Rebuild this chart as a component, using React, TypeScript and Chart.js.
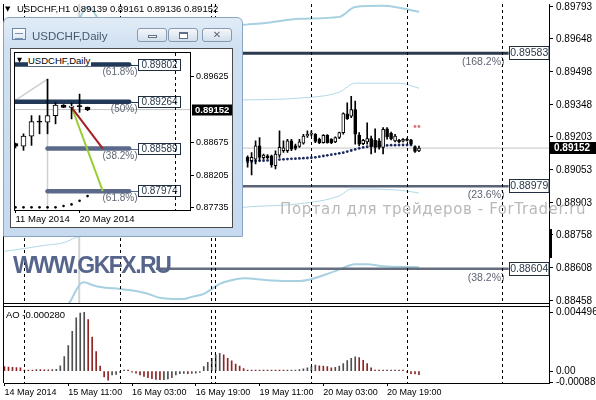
import React, { useEffect, useRef } from 'react';
import { Chart, registerables } from 'chart.js';

Chart.register(...registerables);

const FONT = '"Liberation Sans", Arial, sans-serif';

/* ================= USDCHF, H1 (main chart) ================= */
const X_TICK_IDX = [0, 16, 32, 48, 64, 80, 96];
const X_TICK_LABELS = ['14 May 2014', '15 May 11:00', '16 May 03:00', '16 May 19:00', '19 May 11:00', '20 May 03:00', '20 May 19:00'];
const X_MIN = -0.125;
const X_MAX = 136.625;
const PRICE_TICKS = [0.89793, 0.89648, 0.89498, 0.89348, 0.89203, 0.89053, 0.88903, 0.88758, 0.88608, 0.88458];
const PRICE_MIN = 0.8844;
const PRICE_MAX = 0.898065;
const AO_TICKS = [0.004496, 0, -0.000888];
const AO_TICK_LABELS = ['0.004496', '0.00', '-0.000888'];
const AO_MIN = -0.00091;
const AO_MAX = 0.00508;
const DAY_SEPARATORS = [5, 29, 52, 53, 77, 101, 125];
const TITLE_OHLC = [0.89139, 0.89161, 0.89136, 0.89152];
const CURRENT_PRICE = 0.89152;
const AO_CURRENT = -0.00028;
const VLINE_IDX = 18.75;

const CANDLE_FIRST_IDX = 61;
const OPEN = [0.89110, 0.89095, 0.89102, 0.89162, 0.89108, 0.89117, 0.89117, 0.89072, 0.89120, 0.89140, 0.89140, 0.89185, 0.89162, 0.89159, 0.89174, 0.89207, 0.89215, 0.89215, 0.89192, 0.89177, 0.89210, 0.89192, 0.89180, 0.89200, 0.89222, 0.89308, 0.89297, 0.89327, 0.89210, 0.89172, 0.89180, 0.89195, 0.89187, 0.89185, 0.89155, 0.89240, 0.89219, 0.89185, 0.89187, 0.89183, 0.89192, 0.89189, 0.89159, 0.89139];
const HIGH = [0.89117, 0.89132, 0.89185, 0.89200, 0.89125, 0.89122, 0.89120, 0.89140, 0.89230, 0.89185, 0.89192, 0.89192, 0.89170, 0.89192, 0.89215, 0.89230, 0.89230, 0.89218, 0.89197, 0.89213, 0.89213, 0.89195, 0.89203, 0.89225, 0.89312, 0.89357, 0.89387, 0.89365, 0.89222, 0.89192, 0.89267, 0.89207, 0.89240, 0.89195, 0.89245, 0.89245, 0.89225, 0.89215, 0.89192, 0.89195, 0.89197, 0.89192, 0.89162, 0.89161];
const LOW = [0.89065, 0.89030, 0.89080, 0.89095, 0.89102, 0.89104, 0.89065, 0.89057, 0.89110, 0.89132, 0.89132, 0.89140, 0.89144, 0.89155, 0.89170, 0.89200, 0.89207, 0.89177, 0.89172, 0.89174, 0.89174, 0.89172, 0.89177, 0.89195, 0.89215, 0.89282, 0.89290, 0.89170, 0.89162, 0.89168, 0.89170, 0.89125, 0.89132, 0.89147, 0.89125, 0.89192, 0.89189, 0.89180, 0.89177, 0.89180, 0.89183, 0.89167, 0.89132, 0.89136];
const CLOSE = [0.89095, 0.89110, 0.89162, 0.89110, 0.89120, 0.89108, 0.89075, 0.89125, 0.89155, 0.89153, 0.89185, 0.89147, 0.89150, 0.89180, 0.89207, 0.89215, 0.89219, 0.89182, 0.89177, 0.89210, 0.89177, 0.89177, 0.89200, 0.89222, 0.89309, 0.89285, 0.89327, 0.89215, 0.89170, 0.89187, 0.89195, 0.89159, 0.89155, 0.89155, 0.89237, 0.89204, 0.89195, 0.89207, 0.89180, 0.89192, 0.89187, 0.89170, 0.89137, 0.89152];

const SAR_FIRST_IDX = 61;
const SAR = [0.89090, 0.89091, 0.89093, 0.89094, 0.89095, 0.89096, 0.89097, 0.89099, 0.89100, 0.89101, 0.89102, 0.89103, 0.89104, 0.89105, 0.89106, 0.89107, 0.89108, 0.89110, 0.89113, 0.89116, 0.89119, 0.89122, 0.89125, 0.89128, 0.89131, 0.89136, 0.89141, 0.89146, 0.89151, 0.89155, 0.89158, 0.89160, 0.89162, 0.89163, 0.89164, 0.89164, 0.89165, 0.89165, 0.89166, 0.89166, 0.89166, 0.89166];
const SAR_REV_FIRST_IDX = 103;
const SAR_REV = [0.89250, 0.89250];

const BB_UP2_IDX = [17, 19, 20, 21, 22, 23, 24, 30, 40, 50, 60, 66, 74, 84, 88, 95, 99, 104];
const BB_UP2_VAL = [0.89650, 0.89744, 0.89780, 0.89793, 0.89780, 0.89753, 0.89717, 0.89680, 0.89660, 0.89680, 0.89712, 0.89721, 0.89739, 0.89748, 0.89793, 0.89798, 0.89789, 0.89771];
const BB_UP1_IDX = [58, 74, 84, 88, 99, 104];
const BB_UP1_VAL = [0.89370, 0.89379, 0.89406, 0.89447, 0.89447, 0.89424];
const BB_LO1_IDX = [0, 5, 10, 15, 18, 40, 58, 74, 84, 87, 99, 104];
const BB_LO1_VAL = [0.88683, 0.88696, 0.88710, 0.88723, 0.88746, 0.88820, 0.88880, 0.88899, 0.88935, 0.88966, 0.88961, 0.88948];
const BB_LO2_IDX = [15, 16, 17, 18, 19, 20, 22, 24, 29, 33, 36, 39, 42, 45, 47, 50, 52, 54, 57, 60, 66, 74, 83, 88, 91, 95, 104];
const BB_LO2_VAL = [0.88404, 0.88440, 0.88472, 0.88507, 0.88535, 0.88543, 0.88530, 0.88521, 0.88512, 0.88503, 0.88490, 0.88472, 0.88467, 0.88467, 0.88476, 0.88490, 0.88512, 0.88535, 0.88552, 0.88561, 0.88552, 0.88548, 0.88593, 0.88624, 0.88624, 0.88615, 0.88611];

const MAIN_FIB_LEVELS = [0.89583, 0.88979, 0.88604];
const MAIN_FIB_LABELS = ['(168.2%)', '(23.6%)', '(38.2%)'];
const MAIN_FIB_START = 38;
const MAIN_FIB_END = 126.5;

const AO = [
  0.00034, 0.00031, 0.00029, 0.00028, 0.00026,
  0.00008, 0.00004, 0.00002, 0.00012, 0.00011,
  0.00010, 0.00010, 0.00011, 0.00014, 0.00040,
  0.00111, 0.00196, 0.00305, 0.00408, 0.00445,
  0.004496, 0.00395, 0.00261, 0.00150, 0.00039,
  -0.00044, -0.00070, -0.00030, -0.00025, -0.00010,
  0.00003, 0.00001, -0.00003, -0.00016, -0.00030,
  -0.00040, -0.00050, -0.00058, -0.00064, -0.00066,
  -0.00065, -0.00060, -0.00050, -0.00030, -0.00020,
  -0.00018, -0.00020, -0.00018, -0.00015, -0.00010,
  0.00034, 0.00067, 0.00098, 0.00124, 0.00137,
  0.00124, 0.00098, 0.00078, 0.00054, 0.00039,
  0.00020, 0.00006, 0.00004, 0.00003, 0.00004,
  0.00003, 0.00002, 0.00003, 0.00002, 0.00001,
  0.00001, 0.00002, 0.00005, 0.00008, 0.00012,
  0.00018, 0.00026, 0.00035, 0.00047, 0.00041,
  0.00039, 0.00034, 0.00026, 0.00030, 0.00039,
  0.00057, 0.00080, 0.00098, 0.00110, 0.00103,
  0.00083, 0.00057, 0.00026, 0.00005, 0.00004,
  0.00005, 0.00004, 0.00005, 0.00004, 0.00005,
  0.00002, -0.00005, -0.00020, -0.00022, -0.00028,
];

/* ================= USDCHF, Daily (inset) ================= */
const D_X_TICK_IDX = [0, 8];
const D_X_TICK_LABELS = ['11 May 2014', '20 May 2014'];
const D_X_MIN = -0.062;
const D_X_MAX = 21.79;
const D_PRICE_TICKS = [0.89625, 0.88675, 0.88205, 0.87735];
const D_MIN = 0.877019;
const D_MAX = 0.899694;
const D_OPEN = [0.88660, 0.88625, 0.88769, 0.88979, 0.88970, 0.89065, 0.89218, 0.89185, 0.89204, 0.89185];
const D_HIGH = [0.88670, 0.88802, 0.89065, 0.89065, 0.89592, 0.89257, 0.89225, 0.89248, 0.89376, 0.89190];
const D_LOW = [0.88600, 0.88563, 0.88635, 0.88802, 0.88802, 0.88946, 0.89180, 0.89018, 0.89113, 0.89136];
const D_CLOSE = [0.88625, 0.88769, 0.88979, 0.88970, 0.89065, 0.89218, 0.89185, 0.89204, 0.89194, 0.89152];
const D_SAR = [0.87740, 0.87740, 0.87740, 0.87740, 0.87740, 0.87740, 0.87759, 0.87783, 0.87836, 0.87903];
const D_FIB_LEVELS = [0.89802, 0.89264, 0.88589, 0.87974];
const D_FIB_LABELS = ['(61.8%)', '(50%)', '(38.2%)', '(61.8%)'];
const D_FIB_START = [-1, -1, 4, 4];
const D_FIB_END = 14.2;
const D_RED_X = [7, 10.9];
const D_RED_Y = [0.89184, 0.88589];
const D_GREEN_X = [7.1, 10.9];
const D_GREEN_Y = [0.89161, 0.87974];
const D_TREND_X = [-0.062, 4];
const D_TREND_Y = [0.89281, 0.89592];
const D_VLINE_IDX = 4;
const D_VLINE_TOP = 0.89592;
const D_SEPARATORS = [20];
const D_CURRENT = 0.89152;

const pts = (xs: number[], ys: number[]) => xs.map((x, k) => ({ x, y: ys[k] }));

function mainConfig(): any {
  const cx = OPEN.map((_, k) => CANDLE_FIRST_IDX + k);
  const wicks = cx.map((x, k) => ({ x, y: [LOW[k], HIGH[k]] }));
  const bodies = cx.map((x, k) => ({ x, y: [OPEN[k], CLOSE[k]] }));
  const bodyFill = cx.map((_, k) => (CLOSE[k] >= OPEN[k] ? '#ffffff' : '#000000'));
  const aoColor = AO.map((v, i) => (i > 0 && v > AO[i - 1] ? '#4f4f4f' : '#8e2424'));
  const line = { type: 'line', yAxisID: 'y', pointRadius: 0, fill: false };
  const barBase = { type: 'bar', grouped: false, barPercentage: 1, categoryPercentage: 1, minBarLength: 1 };
  const fibColors = ['#2b3b4d', '#596476', '#646e7e'];
  const fibWidths = [3, 2.5, 2.5];

  const decor = {
    id: 'mainDecor',
    afterDatasetsDraw(chart: any) {
      const { ctx, chartArea: a, scales } = chart;
      const xs = scales.x, ys = scales.y;
      ctx.save();
      ctx.font = `10.5px ${FONT}`;
      ctx.textBaseline = 'middle';
      MAIN_FIB_LEVELS.forEach((lv, k) => {
        const y = Math.round(ys.getPixelForValue(lv));
        const bx = Math.round(xs.getPixelForValue(MAIN_FIB_END)) + 0.5;
        const bw = a.right - bx;
        ctx.fillStyle = '#ffffff';
        ctx.fillRect(bx, y - 6.5, bw, 13);
        ctx.strokeStyle = '#1f2f40';
        ctx.lineWidth = 1;
        ctx.strokeRect(bx, y - 6.5, bw, 13);
        ctx.fillStyle = '#2a3a4c';
        ctx.textAlign = 'center';
        ctx.fillText(lv.toFixed(5), bx + bw / 2, y + 0.5);
        ctx.fillStyle = '#5e6673';
        ctx.textAlign = 'right';
        ctx.fillText(MAIN_FIB_LABELS[k], bx - 5, y + 9);
      });
      ctx.strokeStyle = '#000';
      ctx.lineWidth = 1;
      ctx.setLineDash([3, 3]);
      DAY_SEPARATORS.forEach((d) => {
        const x = Math.floor(xs.getPixelForValue(d)) + 0.5;
        ctx.beginPath();
        ctx.moveTo(x, a.top);
        ctx.lineTo(x, a.bottom);
        ctx.stroke();
      });
      ctx.setLineDash([]);
      const pb = Math.round(ys.bottom);
      ctx.fillStyle = '#ffffff';
      ctx.fillRect(a.left, pb - 1, a.right - a.left, 3);
      ctx.beginPath();
      ctx.moveTo(a.left - 1, pb - 1.5); ctx.lineTo(a.right, pb - 1.5);
      ctx.moveTo(a.left - 1, pb + 1.5); ctx.lineTo(a.right, pb + 1.5);
      ctx.moveTo(a.left - 0.5, a.top); ctx.lineTo(a.left - 0.5, a.bottom);
      ctx.stroke();
      ctx.restore();
    },
    afterDraw(chart: any) {
      const { ctx, chartArea: a, scales } = chart;
      const y = Math.round(scales.y.getPixelForValue(CURRENT_PRICE));
      ctx.save();
      ctx.fillStyle = '#000';
      ctx.fillRect(a.right + 1, y - 6, 47, 12);
      ctx.fillStyle = '#fff';
      ctx.font = `bold 10px ${FONT}`;
      ctx.textAlign = 'left';
      ctx.textBaseline = 'middle';
      ctx.fillText(CURRENT_PRICE.toFixed(5), a.right + 5, y + 0.5);
      ctx.fillStyle = '#000';
      ctx.fillRect(a.right + 1, 229, 2, 29);
      ctx.restore();
    },
  };

  return {
    type: 'bar',
    data: {
      datasets: [
        { ...barBase, label: 'AO', data: AO.map((v, i) => ({ x: i, y: v })), yAxisID: 'ao', backgroundColor: aoColor, maxBarThickness: 1, order: 1 },
        { ...barBase, label: 'body', data: bodies, yAxisID: 'y', backgroundColor: bodyFill, borderColor: '#000', borderWidth: 1, borderSkipped: false, maxBarThickness: 3, order: 2 },
        { ...barBase, label: 'wick', data: wicks, yAxisID: 'y', backgroundColor: '#000', maxBarThickness: 1, order: 3 },
        { ...line, label: 'SAR', data: SAR.map((v, k) => ({ x: SAR_FIRST_IDX + k, y: v })), showLine: false, pointRadius: 1.4, pointBackgroundColor: '#1d2b5e', pointBorderWidth: 0, order: 4 },
        { ...line, label: 'SAR2', data: SAR_REV.map((v, k) => ({ x: SAR_REV_FIRST_IDX + k, y: v })), showLine: false, pointRadius: 1.4, pointBackgroundColor: '#e0707c', pointBorderWidth: 0, order: 4 },
        ...MAIN_FIB_LEVELS.map((lv, k) => ({ ...line, label: 'fib' + k, data: pts([MAIN_FIB_START, MAIN_FIB_END], [lv, lv]), borderColor: fibColors[k], borderWidth: fibWidths[k], order: 5 })),
        { ...line, label: 'bbU2', data: pts(BB_UP2_IDX, BB_UP2_VAL), borderColor: '#a7d0e1', borderWidth: 2, cubicInterpolationMode: 'monotone', order: 6 },
        { ...line, label: 'bbU1', data: pts(BB_UP1_IDX, BB_UP1_VAL), borderColor: '#b2d7e6', borderWidth: 1, cubicInterpolationMode: 'monotone', order: 6 },
        { ...line, label: 'bbL1', data: pts(BB_LO1_IDX, BB_LO1_VAL), borderColor: '#b2d7e6', borderWidth: 1, cubicInterpolationMode: 'monotone', order: 6 },
        { ...line, label: 'bbL2', data: pts(BB_LO2_IDX, BB_LO2_VAL), borderColor: '#a7d0e1', borderWidth: 2, cubicInterpolationMode: 'monotone', order: 6 },
        { ...line, label: 'price', data: pts([X_MIN, X_MAX], [CURRENT_PRICE, CURRENT_PRICE]), borderColor: '#c4c4c4', borderWidth: 1, order: 7 },
        { ...line, label: 'vline', data: pts([VLINE_IDX, VLINE_IDX], [PRICE_MIN, PRICE_MAX]), borderColor: '#d2d2d2', borderWidth: 2, order: 8 },
      ],
    },
    options: {
      responsive: false,
      animation: false,
      devicePixelRatio: 1,
      events: [],
      layout: { padding: { left: 2, right: 0, top: 0, bottom: 0 } },
      plugins: { legend: { display: false }, tooltip: { enabled: false } },
      scales: {
        x: {
          type: 'linear', offset: false, min: X_MIN, max: X_MAX,
          afterBuildTicks: (s: any) => { s.ticks = X_TICK_IDX.map((v) => ({ value: v })); },
          afterFit: (s: any) => { s.height = 17; s.paddingLeft = 0; s.paddingRight = 0; },
          ticks: {
            autoSkip: false, maxRotation: 0, align: 'start', padding: 1, color: '#000',
            font: { family: FONT, size: 9 },
            callback: (v: number) => { const k = X_TICK_IDX.indexOf(v); return k >= 0 ? X_TICK_LABELS[k] : ''; },
          },
          grid: { display: true, drawOnChartArea: false, drawTicks: true, tickLength: 3, color: '#000', offset: false },
          border: { display: true, color: '#000' },
        },
        y: {
          type: 'linear', position: 'right', stack: 'panes', stackWeight: 304, min: PRICE_MIN, max: PRICE_MAX,
          afterBuildTicks: (s: any) => { s.ticks = PRICE_TICKS.map((v) => ({ value: v })); },
          afterFit: (s: any) => { s.width = 47; s.paddingTop = 0; s.paddingBottom = 0; },
          ticks: { autoSkip: false, padding: 3, color: '#000', font: { family: FONT, size: 10 }, callback: (v: number) => Number(v).toFixed(5) },
          grid: { display: true, drawOnChartArea: false, tickLength: 4, color: '#000' },
          border: { display: true, color: '#000' },
        },
        ao: {
          type: 'linear', position: 'right', stack: 'panes', stackWeight: 79, min: AO_MIN, max: AO_MAX,
          afterBuildTicks: (s: any) => { s.ticks = AO_TICKS.map((v) => ({ value: v })); },
          afterFit: (s: any) => { s.width = 47; s.paddingTop = 0; s.paddingBottom = 0; },
          ticks: { autoSkip: false, padding: 3, color: '#000', font: { family: FONT, size: 10 }, callback: (v: number) => { const k = AO_TICKS.indexOf(v); return k >= 0 ? AO_TICK_LABELS[k] : ''; } },
          grid: { display: true, drawOnChartArea: false, tickLength: 4, color: '#000' },
          border: { display: true, color: '#000' },
        },
      },
    },
    plugins: [decor],
  };
}

function dailyConfig(): any {
  const cx = D_OPEN.map((_, k) => k);
  const wicks = cx.map((x, k) => ({ x, y: [D_LOW[k], D_HIGH[k]] }));
  const bodies = cx.map((x, k) => ({ x, y: [D_OPEN[k], D_CLOSE[k]] }));
  const bodyFill = cx.map((_, k) => (D_CLOSE[k] >= D_OPEN[k] ? '#ffffff' : '#000000'));
  const line = { type: 'line', pointRadius: 0, fill: false };
  const barBase = { type: 'bar', grouped: false, barPercentage: 1, categoryPercentage: 1, minBarLength: 1 };
  const fibColors = ['#213957', '#213957', '#5b6a8b', '#5b6a8b'];

  const decor = {
    id: 'dailyDecor',
    afterDatasetsDraw(chart: any) {
      const { ctx, chartArea: a, scales } = chart;
      const xs = scales.x, ys = scales.y;
      ctx.save();
      ctx.font = `10px ${FONT}`;
      ctx.textBaseline = 'middle';
      const lineEnd = xs.getPixelForValue(D_FIB_END);
      D_FIB_LEVELS.forEach((lv, k) => {
        const y = Math.round(ys.getPixelForValue(lv));
        const bx = Math.round(lineEnd + 9) + 0.5;
        const bw = 42;
        ctx.strokeStyle = fibColors[k];
        ctx.lineWidth = 1;
        ctx.beginPath(); ctx.moveTo(lineEnd, y + 0.5); ctx.lineTo(bx, y + 0.5); ctx.stroke();
        ctx.fillStyle = '#ffffff';
        ctx.fillRect(bx, y - 5.5, bw, 11);
        ctx.strokeStyle = '#1f2f40';
        ctx.strokeRect(bx, y - 5.5, bw, 11);
        ctx.fillStyle = '#2a3a4c';
        ctx.textAlign = 'center';
        ctx.fillText(lv.toFixed(5), bx + bw / 2, y + 0.5);
        ctx.fillStyle = '#5e6673';
        ctx.textAlign = 'right';
        ctx.fillText(D_FIB_LABELS[k], bx - 1, y + 7);
      });
      ctx.strokeStyle = '#000';
      ctx.setLineDash([3, 3]);
      D_SEPARATORS.forEach((d) => {
        const x = Math.floor(xs.getPixelForValue(d)) + 0.5;
        ctx.beginPath(); ctx.moveTo(x, a.top); ctx.lineTo(x, a.bottom); ctx.stroke();
      });
      ctx.setLineDash([]);
      ctx.strokeRect(a.left - 0.5, a.top - 0.5, a.right - a.left + 1, a.bottom - a.top + 1);
      ctx.restore();
    },
    afterDraw(chart: any) {
      const { ctx, chartArea: a, scales } = chart;
      const y = Math.round(scales.y.getPixelForValue(D_CURRENT));
      ctx.save();
      ctx.fillStyle = '#000';
      ctx.fillRect(a.right + 2, y - 5.5, 42, 11);
      ctx.fillStyle = '#fff';
      ctx.font = `bold 9.5px ${FONT}`;
      ctx.textAlign = 'left';
      ctx.textBaseline = 'middle';
      ctx.fillText(D_CURRENT.toFixed(5), a.right + 5, y + 0.5);
      ctx.restore();
    },
  };

  return {
    type: 'bar',
    data: {
      datasets: [
        { ...barBase, label: 'body', data: bodies, backgroundColor: bodyFill, borderColor: '#000', borderWidth: 1, borderSkipped: false, maxBarThickness: 5, order: 1 },
        { ...barBase, label: 'wick', data: wicks, backgroundColor: '#000', maxBarThickness: 1, order: 2 },
        { ...line, label: 'sar', data: pts(cx, D_SAR), showLine: false, pointRadius: 1.3, pointBackgroundColor: '#000', pointBorderWidth: 0, order: 3 },
        { ...line, label: 'red', data: pts(D_RED_X, D_RED_Y), borderColor: '#a51e22', borderWidth: 2, order: 3 },
        { ...line, label: 'green', data: pts(D_GREEN_X, D_GREEN_Y), borderColor: '#9acd32', borderWidth: 2, order: 3 },
        ...D_FIB_LEVELS.map((lv, k) => ({ ...line, label: 'fib' + k, data: pts([D_FIB_START[k], D_FIB_END], [lv, lv]), borderColor: fibColors[k], borderWidth: 4.5, borderCapStyle: 'round', order: 4 })),
        { ...line, label: 'trend', data: pts(D_TREND_X, D_TREND_Y), borderColor: '#cfcfcf', borderWidth: 1.5, order: 5 },
        { ...line, label: 'vline', data: pts([D_VLINE_IDX, D_VLINE_IDX], [D_MIN, D_VLINE_TOP]), borderColor: '#cfcfcf', borderWidth: 1.5, order: 5 },
        { ...line, label: 'price', data: pts([D_X_MIN, D_X_MAX], [D_CURRENT, D_CURRENT]), borderColor: '#c4c4c4', borderWidth: 1, order: 6 },
      ],
    },
    options: {
      responsive: false,
      animation: false,
      devicePixelRatio: 1,
      events: [],
      layout: { padding: { left: 2, right: 0, top: 3, bottom: 0 } },
      plugins: { legend: { display: false }, tooltip: { enabled: false } },
      scales: {
        x: {
          type: 'linear', offset: false, min: D_X_MIN, max: D_X_MAX,
          afterBuildTicks: (s: any) => { s.ticks = D_X_TICK_IDX.map((v) => ({ value: v })); },
          afterFit: (s: any) => { s.height = 17; s.paddingLeft = 0; s.paddingRight = 0; },
          ticks: {
            autoSkip: false, maxRotation: 0, align: 'start', padding: 1, color: '#000',
            font: { family: FONT, size: 9.5 },
            callback: (v: number) => { const k = D_X_TICK_IDX.indexOf(v); return k >= 0 ? D_X_TICK_LABELS[k] : ''; },
          },
          grid: { display: true, drawOnChartArea: false, tickLength: 3, color: '#000', offset: false },
          border: { display: true, color: '#000' },
        },
        y: {
          type: 'linear', position: 'right', min: D_MIN, max: D_MAX,
          afterBuildTicks: (s: any) => { s.ticks = D_PRICE_TICKS.map((v) => ({ value: v })); },
          afterFit: (s: any) => { s.width = 42; s.paddingTop = 0; s.paddingBottom = 0; },
          ticks: { autoSkip: false, padding: 2, color: '#000', font: { family: FONT, size: 9 }, callback: (v: number) => Number(v).toFixed(5) },
          grid: { display: true, drawOnChartArea: false, tickLength: 4, color: '#000' },
          border: { display: true, color: '#000' },
        },
      },
    },
    plugins: [decor],
  };
}

const btn: React.CSSProperties = {
  position: 'absolute', top: 10, width: 30, height: 14, boxSizing: 'border-box',
  border: '1px solid #8799b1', borderRadius: 3,
  background: 'linear-gradient(#f4f7fb, #d3dfec)',
};

export default function App() {
  const mainRef = useRef<HTMLCanvasElement | null>(null);
  const dailyRef = useRef<HTMLCanvasElement | null>(null);

  useEffect(() => {
    const main = new Chart(mainRef.current as HTMLCanvasElement, mainConfig());
    const daily = new Chart(dailyRef.current as HTMLCanvasElement, dailyConfig());
    return () => {
      main.destroy();
      daily.destroy();
    };
  }, []);

  return (
    <div style={{ position: 'fixed', left: 0, top: 0, width: 596, height: 400, overflow: 'hidden', background: '#fff', fontFamily: FONT }}>
      <canvas ref={mainRef} width={596} height={400} style={{ position: 'absolute', left: 0, top: 0, width: 596, height: 400 }} />

      <span style={{ position: 'absolute', left: 5, top: 3, fontFamily: '"DejaVu Sans"', fontSize: 7, lineHeight: '12px', color: '#000' }}>▼</span>
      <span style={{ position: 'absolute', left: 17, top: 3, fontSize: 9.5, lineHeight: '12px', color: '#000', whiteSpace: 'nowrap' }}>
        {'USDCHF,H1 ' + TITLE_OHLC.map((v) => v.toFixed(5)).join(' ')}
      </span>

      <span style={{ position: 'absolute', left: 6, top: 309, fontSize: 9.5, lineHeight: '12px', color: '#000', whiteSpace: 'nowrap' }}>
        {'AO ' + AO_CURRENT.toFixed(6)}
      </span>

      <span style={{ position: 'absolute', left: 280, top: 202, fontFamily: '"DejaVu Sans"', fontSize: 15, lineHeight: '15px', letterSpacing: 0.6, color: '#b9b9b9', whiteSpace: 'nowrap' }}>
        Портал для трейдеров - ForTrader.ru
      </span>
      <span style={{ position: 'absolute', left: 13, top: 253.7, fontWeight: 'bold', fontSize: 23, lineHeight: '23px', letterSpacing: -1.5, color: '#56658c', whiteSpace: 'nowrap' }}>
        WWW.GKFX.RU
      </span>

      <div style={{ position: 'absolute', left: 3, top: 17, width: 240, height: 220, boxSizing: 'border-box', border: '1px solid #8aa3c2', borderRadius: '6px 6px 1px 1px', background: 'linear-gradient(#e2ecf7 0px, #cfe0f2 30px, #c6d9ef 100%)' }}>
        <div style={{ position: 'absolute', left: 8, top: 10, width: 14, height: 12, boxSizing: 'border-box', border: '1px solid #6a86a8', background: 'linear-gradient(#ffffff, #dde8f4)' }}>
          <div style={{ position: 'absolute', left: 2, top: 4, width: 8, height: 4, borderTop: '1px solid #7a93b3', borderBottom: '1px solid #7a93b3' }} />
        </div>
        <span style={{ position: 'absolute', left: 28, top: 11, fontSize: 11.5, lineHeight: '14px', color: '#4a5870', whiteSpace: 'nowrap' }}>USDCHF,Daily</span>
        <div style={{ ...btn, left: 133 }}>
          <div style={{ position: 'absolute', left: 10, top: 6, width: 9, height: 3, boxSizing: 'border-box', border: '1px solid #5f6f86', background: '#fff' }} />
        </div>
        <div style={{ ...btn, left: 164 }}>
          <div style={{ position: 'absolute', left: 10, top: 3, width: 9, height: 7, boxSizing: 'border-box', border: '1px solid #5f6f86', borderTopWidth: 2, background: '#fff' }} />
        </div>
        <div style={{ ...btn, left: 198, textAlign: 'center', fontFamily: '"DejaVu Sans"', fontSize: 10, lineHeight: '12px', color: '#5a6476', fontWeight: 'bold' }}>✕</div>

        <div style={{ position: 'absolute', left: 6, top: 30, width: 223, height: 180, boxSizing: 'border-box', border: '1px solid #4a4a4a', background: '#fff' }}>
          <canvas ref={dailyRef} width={221} height={178} style={{ position: 'absolute', left: 0, top: 0, width: 221, height: 178 }} />
          <span style={{ position: 'absolute', left: 6, top: 6, fontFamily: '"DejaVu Sans"', fontSize: 6.5, lineHeight: '11px', color: '#000' }}>▼</span>
          <span style={{ position: 'absolute', left: 17, top: 6, fontSize: 9.5, lineHeight: '11px', color: '#000', background: '#fff', paddingRight: 1, whiteSpace: 'nowrap' }}>USDCHF,Daily</span>
        </div>
      </div>
    </div>
  );
}
